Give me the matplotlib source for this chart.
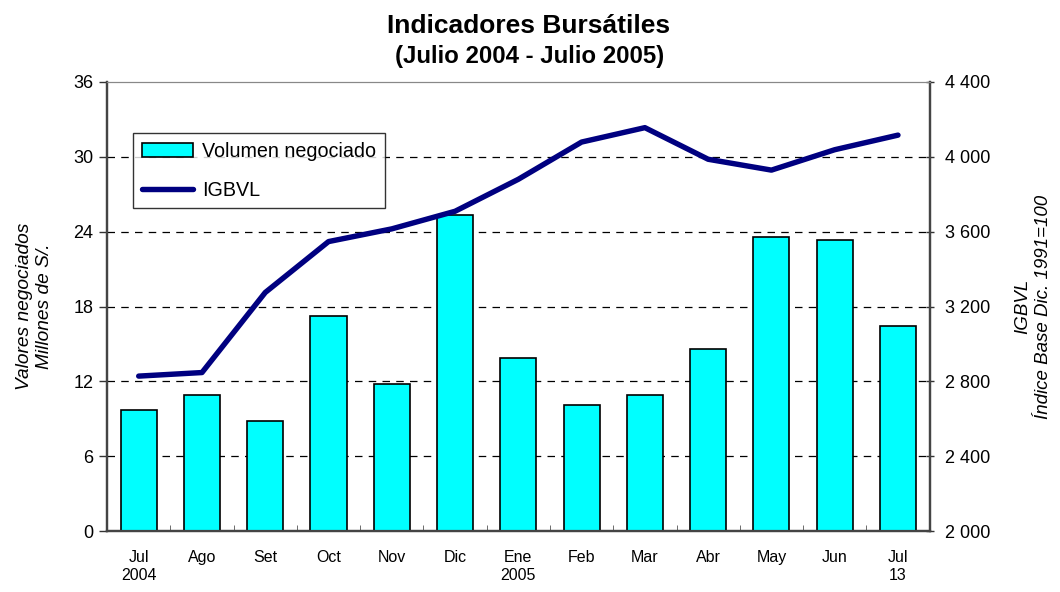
import matplotlib
matplotlib.use("Agg")
import matplotlib.pyplot as plt
import numpy as np
from matplotlib.ticker import FuncFormatter

plt.rcParams['font.family'] = ['Liberation Sans', 'DejaVu Sans']

months = ["Jul\n2004", "Ago", "Set", "Oct", "Nov", "Dic", "Ene\n2005", "Feb", "Mar", "Abr", "May", "Jun", "Jul\n13"]
volumen = [9.7, 10.9, 8.8, 17.2, 11.8, 25.3, 13.9, 10.1, 10.9, 14.6, 23.6, 23.3, 16.4]
igbvl = [2828, 2847, 3275, 3547, 3615, 3709, 3880, 4079, 4156, 3987, 3929, 4038, 4116]

fig = plt.figure(figsize=(10.6, 5.92), dpi=100)
ax = fig.add_axes([0.101, 0.103, 0.776, 0.7585])
ax2 = ax.twinx()

x = np.arange(len(months))
bars = ax.bar(x, volumen, width=0.57, color='#00FFFF', edgecolor='black', linewidth=1.2, zorder=3,
              label='Volumen negociado')
line, = ax2.plot(x, igbvl, color='#000080', linewidth=3.9, solid_capstyle='round', zorder=4, label='IGBVL')

ax.set_xlim(-0.5, len(months) - 0.5)
ax.set_ylim(0, 36)
ax.set_yticks(np.arange(0, 37, 6))
ax2.set_ylim(2000, 4400)
ax2.set_yticks(np.arange(2000, 4401, 400))
ax2.yaxis.set_major_formatter(FuncFormatter(lambda v, p: f"{int(v):,}".replace(",", " ")))

for yv in range(6, 36, 6):
    ax.axhline(yv, color='black', linestyle=(0, (6, 5)), linewidth=0.9, zorder=1)

ax.set_xticks(x)
ax.set_xticklabels(months, fontsize=11.5)
ax.tick_params(axis='x', length=0, pad=14)
ax.set_xticks(np.arange(-0.5, len(months), 1), minor=True)
ax.tick_params(axis='x', which='minor', direction='in', length=4, color='#555555')
ax.tick_params(axis='y', labelsize=13, length=6, width=1, color='#333333', pad=4)
ax2.tick_params(axis='y', labelsize=13, length=6, width=1, direction='inout', color='#333333', pad=8)

for s in ['left', 'right', 'bottom']:
    ax.spines[s].set_color('#444444')
    ax2.spines[s].set_color('#444444')
    ax.spines[s].set_linewidth(1.6)
    ax2.spines[s].set_linewidth(1.6)
ax.spines['top'].set_color('#888888')
ax2.spines['top'].set_color('#888888')

ax.set_zorder(ax2.get_zorder() - 1)
ax.patch.set_visible(True)
ax2.patch.set_visible(False)

ax.set_ylabel("Valores negociados\nMillones de S/.", fontsize=13.8, style='italic', linespacing=1.25)
ax2.set_ylabel("IGBVL\nÍndice Base Dic. 1991=100", fontsize=13.5, style='italic', rotation=90,
               linespacing=1.25)
ax2.yaxis.set_label_coords(1.103, 0.5)
ax.yaxis.set_label_coords(-0.066, 0.5)

leg = fig.legend([bars, line], ['Volumen negociado', 'IGBVL'], loc='upper left',
                 bbox_to_anchor=(133 / 1060, 1 - 133 / 592), borderaxespad=0, fontsize=14.2, frameon=True,
                 fancybox=False, edgecolor='black', borderpad=0.45, handlelength=2.6, handletextpad=0.45,
                 labelspacing=1.0)
leg.get_frame().set_linewidth(1.0)

fig.text(0.499, 1 - 33 / 592, "Indicadores Bursátiles", ha='center', va='baseline', fontsize=19, fontweight='bold')
fig.text(0.4995, 1 - 63 / 592, "(Julio 2004 - Julio 2005)", ha='center', va='baseline', fontsize=17.3,
         fontweight='bold')

fig.savefig("out.png", dpi=100)
